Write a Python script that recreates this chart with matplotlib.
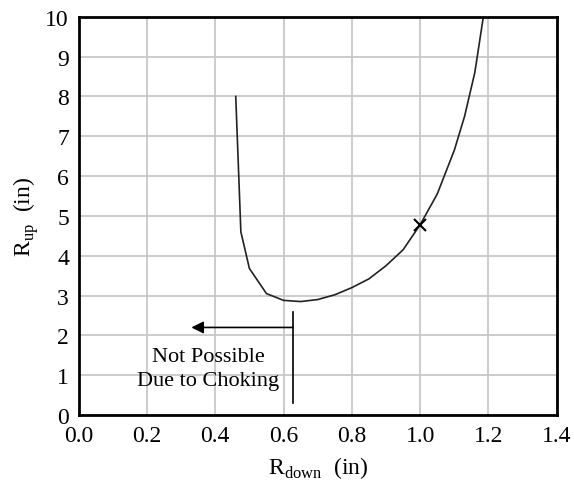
import numpy as np
import matplotlib.pyplot as plt

plt.rcParams['font.family'] = ['Liberation Serif', 'DejaVu Serif']
plt.rcParams['mathtext.fontset'] = 'custom'
plt.rcParams['mathtext.rm'] = 'Liberation Serif'

# curve
r_down = [0.46, 0.475, 0.50, 0.55, 0.60, 0.65, 0.70, 0.75, 0.80, 0.85, 0.90, 0.95,
          1.00, 1.05, 1.10, 1.13, 1.16, 1.185]
r_up = [8.0, 4.6, 3.68, 3.05, 2.88, 2.85, 2.90, 3.02, 3.2, 3.42, 3.75, 4.15,
        4.78, 5.55, 6.65, 7.5, 8.6, 10.0]
mark_x = [1.0]
mark_y = [4.78]

xticks = [0.0, 0.2, 0.4, 0.6, 0.8, 1.0, 1.2, 1.4]
yticks = list(range(0, 11))

fig = plt.figure(figsize=(5.74, 4.81), dpi=100)
ax = fig.add_axes([0.137, 0.135, 0.833, 0.828])

ax.plot(r_down, r_up, color='#222222', lw=1.2)
ax.plot(mark_x, mark_y, 'x', color='black', ms=8, mew=1.5)

# choking annotation
ax.plot([0.628, 0.628], [0.3, 2.6], color='black', lw=1.2)
ax.annotate('', xy=(0.33, 2.2), xytext=(0.628, 2.2),
            arrowprops=dict(arrowstyle='-|>', color='black', lw=1.2,
                            mutation_scale=18, shrinkA=0, shrinkB=0))
ax.text(0.38, 1.16, 'Not Possible\nDue to Choking', ha='center', va='center',
        fontsize=16, linespacing=1.35)

ax.set_xlim(0, 1.4)
ax.set_ylim(0, 10)
ax.set_xticks(xticks)
ax.set_xticklabels(['%.1f' % v for v in xticks])
ax.set_yticks(yticks)
ax.tick_params(length=0, labelsize=17, pad=7)
ax.grid(True, color='#c8c8c8', lw=1.3)
ax.set_axisbelow(True)
for s in ax.spines.values():
    s.set_linewidth(2)

ax.set_xlabel(r'R$_{\mathrm{down}}$  (in)', fontsize=17, labelpad=6)
ax.set_ylabel(r'R$_{\mathrm{up}}$  (in)', fontsize=17, labelpad=3)

fig.savefig('out.png', dpi=100)
